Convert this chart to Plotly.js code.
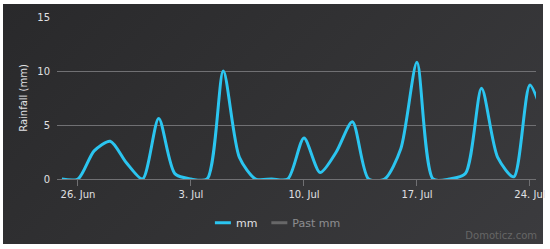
<!DOCTYPE html>
<html>
<head>
<meta charset="utf-8">
<script src="https://cdn.plot.ly/plotly-3.0.1.min.js"></script>
<style>
  html, body { margin: 0; padding: 0; background: #ffffff; }
  #bg { position: absolute; left: 3px; top: 4px; width: 540px; height: 240px;
        background: linear-gradient(135deg, #29292b 0%, #323234 50%, #3b3b3e 100%); }
  #chart { position: absolute; left: 0; top: 0; width: 550px; height: 249px; }
  #credit { position: absolute; right: 13px; top: 230px; font: 10px "DejaVu Sans", sans-serif; color: #666666; }
</style>
</head>
<body>
<div id="bg"></div>
<div id="chart"></div>
<div id="credit">Domoticz.com</div>
<script>
// Dates (daily) and rainfall in mm
const dates = [
  '2016-06-25','2016-06-26','2016-06-27','2016-06-28','2016-06-29','2016-06-30',
  '2016-07-01','2016-07-02','2016-07-03','2016-07-04','2016-07-05','2016-07-06',
  '2016-07-07','2016-07-08','2016-07-09','2016-07-10','2016-07-11','2016-07-12',
  '2016-07-13','2016-07-14','2016-07-15','2016-07-16','2016-07-17','2016-07-18',
  '2016-07-19','2016-07-20','2016-07-21','2016-07-22','2016-07-23','2016-07-24',
  '2016-07-25'
];
const mm = [
  0, 0, 2.6, 3.5, 1.5, 0,
  5.6, 0.5, 0, 0, 10.0, 2.0,
  0, 0, 0, 3.8, 0.6, 2.5,
  5.3, 0, 0, 2.8, 10.8, 0,
  0, 0.5, 8.4, 2.0, 0.2, 8.7,
  5.0
];
// "Past mm" series is hidden in the reference (legend entry only)
const pastDates = ['2016-06-25'];
const pastMm = [null];
const seriesNames = ['mm', 'Past mm'];
const yTitle = 'Rainfall (mm)';

const font = '"DejaVu Sans", Verdana, sans-serif';
const traces = [
  {
    x: dates, y: mm, name: seriesNames[0], type: 'scatter', mode: 'lines',
    line: { color: '#2bc5f0', width: 3, shape: 'spline', smoothing: 0.75 },
    hoverinfo: 'x+y'
  },
  {
    x: pastDates, y: pastMm, name: seriesNames[1], type: 'scatter', mode: 'lines',
    line: { color: '#9a9a9a', width: 3 },
    visible: 'legendonly'
  }
];

const layout = {
  width: 550, height: 249,
  margin: { l: 57, r: 14, t: 17, b: 70 },
  paper_bgcolor: 'rgba(0,0,0,0)',
  plot_bgcolor: 'rgba(0,0,0,0)',
  font: { family: font, size: 10, color: '#e0e0e3' },
  showlegend: true,
  legend: {
    orientation: 'h', x: 0.29, xanchor: 'left', y: -0.27, yanchor: 'middle',
    font: { family: font, size: 11, color: '#e0e0e3' },
    itemwidth: 30,
    bgcolor: 'rgba(0,0,0,0)'
  },
  xaxis: {
    type: 'date',
    range: ['2016-06-24 16:48', '2016-07-24 09:00'],
    tick0: '2016-06-26', dtick: 7 * 86400000,
    tickformat: '%-d. %b',
    showgrid: false,
    showline: true, linecolor: '#707073', linewidth: 1,
    ticks: 'outside', ticklen: 6, tickcolor: '#707073',
    tickfont: { family: font, size: 10, color: '#e0e0e3' },
    zeroline: false, fixedrange: true
  },
  yaxis: {
    range: [0, 15], dtick: 5, tick0: 0,
    showgrid: true, gridcolor: '#707073', gridwidth: 1,
    zeroline: false, showline: false,
    ticks: '', ticklabelstandoff: 6,
    tickfont: { family: font, size: 10, color: '#e0e0e3' },
    title: { text: yTitle, font: { family: font, size: 10, color: '#e0e0e3' }, standoff: 7 },
    fixedrange: true
  }
};

Plotly.newPlot('chart', traces, layout, { displayModeBar: false, staticPlot: true }).then(function () {
  // shorten legend line symbols to match the reference look
  document.querySelectorAll('.legend .legendlines path').forEach(function (p) {
    p.setAttribute('d', 'M19,0h16');
  });
  // tighten spacing between legend entries
  var items = document.querySelectorAll('.legend g.traces');
  if (items.length > 1) {
    var t = items[1].getAttribute('transform') || '';
    var m = t.match(/translate\(\s*([-\d.]+)[ ,]+([-\d.]+)\s*\)/);
    if (m) items[1].setAttribute('transform', 'translate(' + (parseFloat(m[1]) - 10) + ',' + m[2] + ')');
  }
});
</script>
</body>
</html>
